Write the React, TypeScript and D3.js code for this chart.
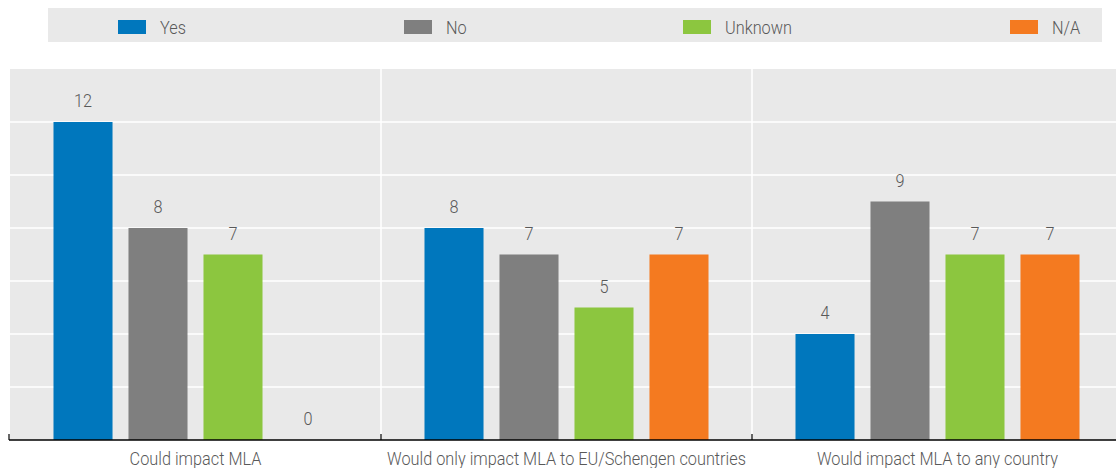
import React from "react";
import * as d3 from "d3";

const categories = ["Could impact MLA", "Would only impact MLA to EU/Schengen countries", "Would impact MLA to any country"];
const seriesNames = ["Yes", "No", "Unknown", "N/A"];
const yesValues = [12, 8, 4];
const noValues = [8, 7, 9];
const unknownValues = [7, 5, 7];
const naValues = [0, 7, 7];
const yTicks = [0, 2, 4, 6, 8, 10, 12, 14];

const colors = ["#0077bd", "#7f7f7f", "#8cc63f", "#f47a20"];
const FONT = "Roboto, 'Liberation Sans', sans-serif";
const SX = 0.905;

function T(props: { x: number; y: number; anchor?: string; children: React.ReactNode }) {
  return (
    <g transform={`translate(${props.x},${props.y}) scale(${SX},1)`}>
      <text x={0} y={0} textAnchor={props.anchor || "start"} fontSize={18} fontWeight={300} fill="#595959">{props.children}</text>
    </g>
  );
}

export default function App() {
  const W = 1116, H = 468;
  const left = 10, right = 1116, top = 69, bottom = 440;
  const series = [yesValues, noValues, unknownValues, naValues];

  const x0 = d3.scaleBand<string>().domain(categories).range([left, 1123]).padding(0);
  const x1 = d3.scaleBand<string>().domain(seriesNames).range([0, x0.bandwidth()]).paddingInner(0.213).paddingOuter(0.58);
  const y = d3.scaleLinear().domain([0, 14]).range([bottom, top]);

  return (
    <svg width={W} height={H} style={{ position: "absolute", left: 0, top: 0, display: "block" }} fontFamily={FONT}>
      <rect x={0} y={0} width={W} height={H} fill="#ffffff" />
      <rect x={48} y={8} width={1054} height={34} fill="#e9e9e9" />
      {seriesNames.map((s, i) => {
        const lx = [118, 404, 683, 1010][i];
        return (
          <g key={s}>
            <rect x={lx} y={20} width={28} height={14} fill={colors[i]} />
            <T x={lx + 42} y={34}>{s}</T>
          </g>
        );
      })}
      <rect x={left} y={top} width={right - left} height={bottom - top} fill="#e9e9e9" />
      {yTicks.slice(1, -1).map((t) => (
        <line key={t} x1={left} x2={right} y1={y(t)} y2={y(t)} stroke="#ffffff" strokeWidth={1.5} />
      ))}
      {categories.slice(1).map((c) => (
        <line key={c} x1={x0(c)!} x2={x0(c)!} y1={top} y2={bottom} stroke="#ffffff" strokeWidth={1.5} />
      ))}
      {categories.map((c, ci) => (
        <g key={c}>
          {seriesNames.map((s, si) => {
            const v = series[si][ci];
            const bx = x0(c)! + x1(s)!;
            return (
              <g key={s}>
                <rect x={bx} y={y(v)} width={x1.bandwidth()} height={bottom - y(v)} fill={colors[si]} />
                <T x={bx + x1.bandwidth() / 2} y={y(v) - 15} anchor="middle">{v}</T>
              </g>
            );
          })}
          <T x={x0(c)! + x0.bandwidth() / 2} y={465} anchor="middle">{c}</T>
        </g>
      ))}
      <line x1={9} x2={right} y1={bottom} y2={bottom} stroke="#000000" strokeWidth={1.5} />
      {[left, ...categories.slice(1).map((c) => x0(c)!)].map((xv, i) => (
        <line key={i} x1={i === 0 ? 9 : xv} x2={i === 0 ? 9 : xv} y1={bottom - 6} y2={bottom} stroke="#000000" strokeWidth={1.2} />
      ))}
    </svg>
  );
}
